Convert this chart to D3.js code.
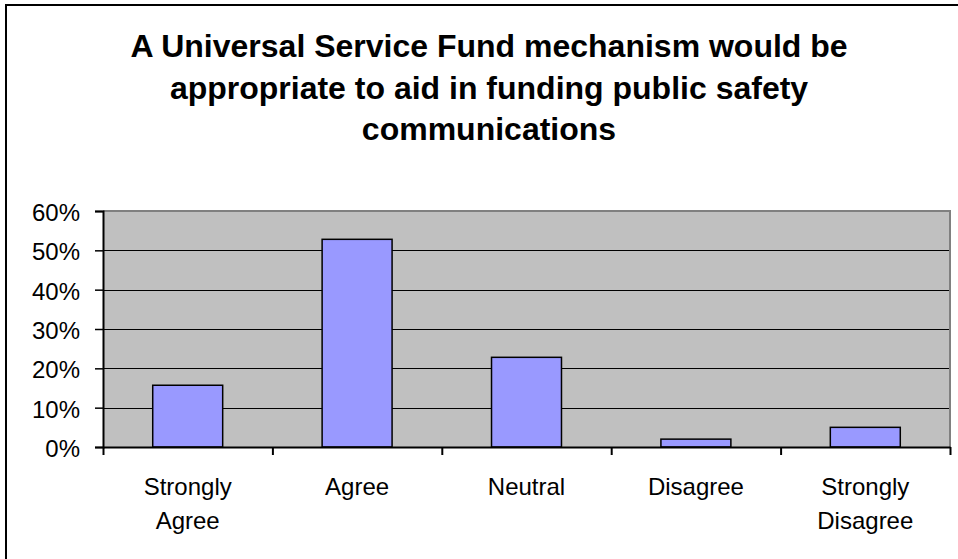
<!DOCTYPE html>
<html>
<head>
<meta charset="utf-8">
<script src="https://cdn.jsdelivr.net/npm/d3@7"></script>
<style>
  html, body { margin: 0; padding: 0; background: #fff; }
  svg { display: block; font-family: "Liberation Sans", Arial, sans-serif; }
</style>
</head>
<body>
<svg id="chart" width="958" height="559"></svg>
<script>
// ---- data ----
const titleLines = [
  "A Universal Service Fund mechanism would be",
  "appropriate to aid in funding public safety",
  "communications"
];
const categories = ["Strongly Agree", "Agree", "Neutral", "Disagree", "Strongly Disagree"];
const categoryLabelLines = [["Strongly", "Agree"], ["Agree"], ["Neutral"], ["Disagree"], ["Strongly", "Disagree"]];
const values = [0.157, 0.528, 0.228, 0.020, 0.050];
const yTicks = [0, 0.1, 0.2, 0.3, 0.4, 0.5, 0.6];

// ---- layout ----
const svg = d3.select("#chart");
const plot = { left: 103, right: 950, top: 211, bottom: 447 };

// outer frame
svg.append("rect")
  .attr("x", 6).attr("y", 5)
  .attr("width", 966).attr("height", 620)
  .attr("fill", "#fff").attr("stroke", "#000").attr("stroke-width", 2);

// title
const title = svg.append("text")
  .attr("text-anchor", "middle")
  .attr("font-size", 32).attr("font-weight", "bold").attr("fill", "#000");
titleLines.forEach((t, i) => {
  title.append("tspan").attr("x", 489).attr("y", 57 + i * 41.5).text(t);
});

// scales
const y = d3.scaleLinear().domain([0, 0.6]).range([plot.bottom, plot.top]);
const xCat = d3.scaleBand().domain(categories).range([plot.left, plot.right]).padding(0);
const xBar = d3.scaleBand().domain(categories).range([plot.left, plot.right])
  .paddingInner(0.587).paddingOuter(0.2935);

// plot background
svg.append("rect")
  .attr("x", plot.left).attr("y", plot.top)
  .attr("width", plot.right - plot.left).attr("height", plot.bottom - plot.top)
  .attr("fill", "#C0C0C0");

// gridlines
svg.append("g").selectAll("line")
  .data(yTicks.filter(d => d > 0 && d < 0.6))
  .join("line")
  .attr("x1", plot.left).attr("x2", plot.right)
  .attr("y1", d => Math.round(y(d)) + 0.5).attr("y2", d => Math.round(y(d)) + 0.5)
  .attr("stroke", "#000").attr("stroke-width", 1);

// top & right plot border (gray)
svg.append("line").attr("x1", plot.left).attr("x2", plot.right + 1)
  .attr("y1", plot.top).attr("y2", plot.top)
  .attr("stroke", "#808080").attr("stroke-width", 2);
svg.append("line").attr("x1", plot.right).attr("x2", plot.right)
  .attr("y1", plot.top).attr("y2", plot.bottom)
  .attr("stroke", "#808080").attr("stroke-width", 2);

// bars
svg.append("g").selectAll("rect")
  .data(values)
  .join("rect")
  .attr("x", (d, i) => xBar(categories[i]))
  .attr("y", d => y(d))
  .attr("width", xBar.bandwidth())
  .attr("height", d => plot.bottom - y(d))
  .attr("fill", "#9999FF")
  .attr("stroke", "#000").attr("stroke-width", 1.5);

// y axis
const yAxis = svg.append("g")
  .attr("transform", `translate(${plot.left},0)`)
  .call(d3.axisLeft(y).tickValues(yTicks).tickFormat(d3.format(".0%")).tickSize(8).tickPadding(15));
yAxis.select(".domain").attr("stroke", "#000").attr("stroke-width", 2);
yAxis.selectAll(".tick line").attr("stroke", "#000").attr("stroke-width", 1.5);
yAxis.selectAll(".tick text")
  .attr("font-size", 24).attr("font-family", "Liberation Sans, Arial, sans-serif")
  .attr("fill", "#000").attr("dy", null).attr("y", 9.5);

// x axis: ticks at category boundaries
const boundaries = categories.map(c => xCat(c)).concat([plot.right]);
const xB = d3.scaleLinear().domain([plot.left, plot.right]).range([plot.left, plot.right]);
const xAxis = svg.append("g")
  .attr("transform", `translate(0,${plot.bottom})`)
  .call(d3.axisBottom(xB).tickValues(boundaries).tickFormat("").tickSize(8).tickSizeOuter(0));
xAxis.select(".domain").attr("stroke", "#000").attr("stroke-width", 2);
xAxis.selectAll(".tick line").attr("stroke", "#000").attr("stroke-width", 2);

// category labels
const lab = svg.append("g").selectAll("text")
  .data(categories)
  .join("text")
  .attr("text-anchor", "middle")
  .attr("font-size", 24).attr("fill", "#000");
lab.each(function(c, i) {
  const t = d3.select(this);
  categoryLabelLines[i].forEach((line, j) => {
    t.append("tspan")
      .attr("x", xCat(c) + xCat.bandwidth() / 2)
      .attr("y", 495 + j * 34)
      .text(line);
  });
});
</script>
</body>
</html>
